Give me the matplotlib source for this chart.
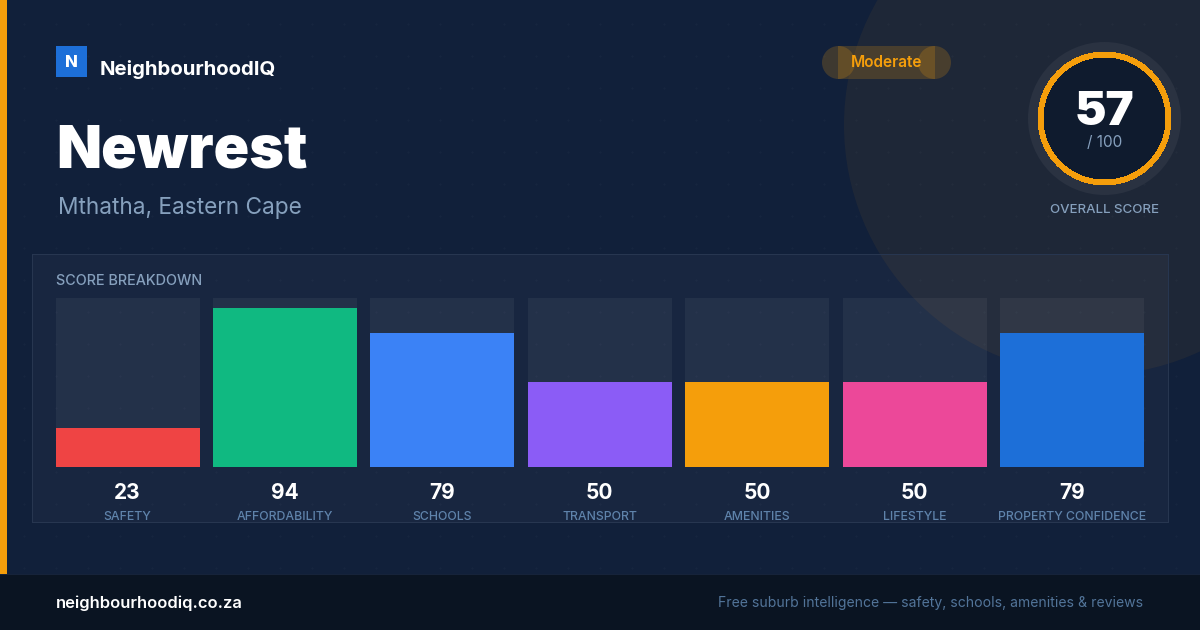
import matplotlib
matplotlib.use('Agg')
import matplotlib.pyplot as plt
import numpy as np
from matplotlib.patches import Circle, Rectangle, Ellipse

plt.rcParams['font.family'] = ['Inter', 'DejaVu Sans']

# data
categories = ['SAFETY', 'AFFORDABILITY', 'SCHOOLS', 'TRANSPORT', 'AMENITIES', 'LIFESTYLE', 'PROPERTY CONFIDENCE']
scores = [23, 94, 79, 50, 50, 50, 79]
bar_colors = ['#ef4444', '#10b981', '#3b82f6', '#8b5cf6', '#f59e0b', '#ec4899', '#1d6fd8']
track_max = [100] * 7

suburb = 'Newrest'
region = 'Mthatha, Eastern Cape'
overall = 57
band = 'Moderate'

AMBER = '#f59e0b'
MUTED = '#86a0bd'

fig = plt.figure(figsize=(12, 6.3), dpi=100, facecolor='#11203a')

# whole canvas in pixel coordinates
ax = fig.add_axes([0, 0, 1, 1])
ax.set_xlim(0, 1200)
ax.set_ylim(630, 0)
ax.axis('off')

# dot grid
gx, gy = np.meshgrid(np.arange(24, 1200, 32), np.arange(24, 580, 32))
ax.scatter(gx.ravel(), gy.ravel(), s=3, color='white', alpha=0.025, linewidths=0, zorder=1)

# big decorative circle
ax.add_patch(Circle((1094, 125), 250, fc=AMBER, alpha=0.06, ec='none', zorder=2))

# left stripe and footer
ax.add_patch(Rectangle((0, 0), 7, 574, fc=AMBER, ec='none', zorder=3))
ax.add_patch(Rectangle((0, 574), 1200, 56, fc='#0a1422', ec='none', zorder=3))
ax.add_patch(Rectangle((0, 574), 1200, 1, fc='#16233a', ec='none', zorder=4))

# panel, border as 1px filled strips so it lands on whole pixels
ax.add_patch(Rectangle((32, 254), 1137, 269, fc='white', alpha=0.03, ec='none', zorder=3))
for bx, by, bw, bh in [(32, 254, 1137, 1), (32, 522, 1137, 1), (32, 255, 1, 267), (1168, 255, 1, 267)]:
    ax.add_patch(Rectangle((bx, by), bw, bh, fc='#273650', ec='none', zorder=4))

# logo
ax.add_patch(Rectangle((56, 46), 31, 31, fc='#1d6fd8', ec='none', zorder=4))
ax.text(71.5, 67, 'N', color='white', fontsize=12, fontweight='heavy', ha='center', va='baseline', zorder=5)
ax.text(100, 75, 'NeighbourhoodIQ', color='white', fontsize=14.65, fontweight='bold', va='baseline', zorder=5)

# title
ax.text(56, 168, suburb, color='white', fontsize=42.3, fontweight='black', va='baseline', zorder=5)
ax.text(58, 214, region, color=MUTED, fontsize=16.33, va='baseline', zorder=5)

# pill, the overlaps are in the original too
ax.add_patch(Rectangle((838, 46), 97, 33, fc=AMBER, alpha=0.2, ec='none', zorder=4))
ax.add_patch(Ellipse((838.5, 62.5), 33, 33, fc=AMBER, alpha=0.2, ec='none', zorder=4))
ax.add_patch(Ellipse((934.5, 62.5), 33, 33, fc=AMBER, alpha=0.2, ec='none', zorder=4))
ax.text(886.5, 67, band, color=AMBER, fontsize=11.1, fontweight='semibold', ha='center', va='baseline', zorder=5)

# score ring
ax.add_patch(Circle((1104.5, 118.5), 76.5, fc='#2a3241', ec='none', zorder=4))
ax.add_patch(Circle((1104.5, 118.5), 66.5, fc=AMBER, ec='none', zorder=5, antialiased=False))
ax.add_patch(Circle((1104.5, 118.5), 60.5, fc='#0f1b2e', ec='none', zorder=6, antialiased=False))
ax.text(1104, 125, str(overall), color='white', fontsize=34.2, fontweight='black', ha='center', va='baseline', zorder=7)
ax.text(1104.5, 147, '/ 100', color=MUTED, fontsize=11, ha='center', va='baseline', zorder=7)
ax.text(1104.5, 213, 'OVERALL SCORE', color=MUTED, fontsize=9.55, fontweight='medium', ha='center', va='baseline', zorder=7)

ax.text(56, 285, 'SCORE BREAKDOWN', color=MUTED, fontsize=10.35, fontweight='medium', va='baseline', zorder=5)

# footer text
ax.text(56, 608, 'neighbourhoodiq.co.za', color='white', fontsize=11.9, fontweight='semibold', va='baseline', zorder=5)
ax.text(1143, 607, 'Free suburb intelligence \u2014 safety, schools, amenities & reviews', color='#527499',
        fontsize=10.1, ha='right', va='baseline', zorder=5)

# bars, 144px wide every 157.4px
pitch = 157.4
bar_w = 144 / pitch
bax = fig.add_axes([55.6 / 1200, (630 - 467) / 630, (144 + 6 * pitch) / 1200, 169.5 / 630])
bax.patch.set_alpha(0)
bax.axis('off')
x = np.arange(len(categories))
bax.bar(x, track_max, width=bar_w, color='white', alpha=0.05, linewidth=0)
bax.bar(x, scores, width=bar_w, color=bar_colors, linewidth=0)
bax.set_xlim(-bar_w / 2, 6 + bar_w / 2)
bax.set_ylim(0, 100)

# values and labels under the bars
for i, (cat, val) in enumerate(zip(categories, scores)):
    px = 127.6 + i * pitch
    ax.text(px, 499, str(val), color='white', fontsize=15, fontweight='bold', ha='center', va='baseline', zorder=5)
    ax.text(px, 520, cat, color='#5f83ab', fontsize=8.85, fontweight='medium', ha='center', va='baseline', zorder=5)

fig.savefig('out.png', dpi=100, facecolor=fig.get_facecolor())
